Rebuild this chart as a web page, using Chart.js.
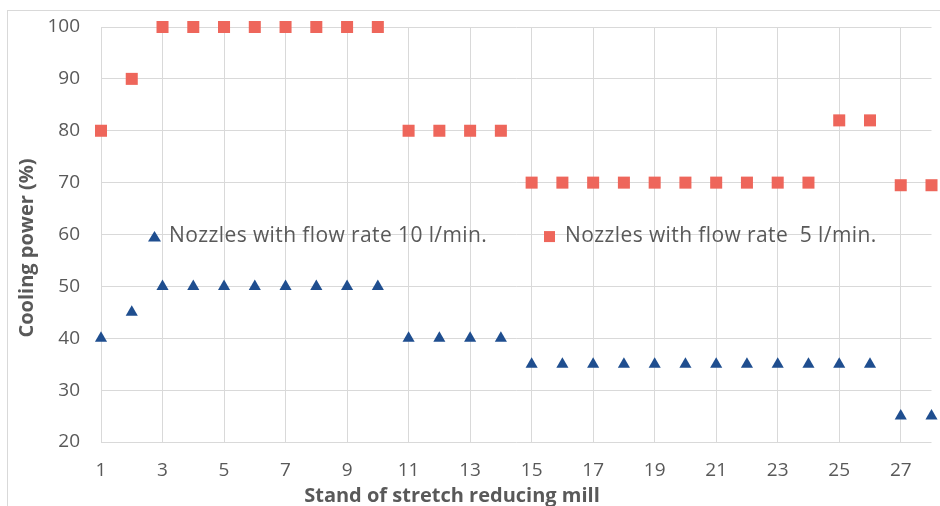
<!DOCTYPE html>
<html lang="en">
<head>
<meta charset="UTF-8">
<title>Cooling power per stand</title>
<style>
  html, body { margin: 0; padding: 0; background: #fff; overflow: hidden; width: 940px; height: 506px; }
  .frame { position: absolute; left: 7px; top: 10px; width: 1000px; height: 600px; border-left: 1px solid #d9d9d9; border-top: 1px solid #d9d9d9; }
  .wrap { position: absolute; left: 0; top: 0; width: 940px; height: 530px; }
</style>
<script src="https://cdn.jsdelivr.net/npm/chart.js"></script>
</head>
<body>
<div class="frame"></div>
<div class="wrap"><canvas id="chart" width="940" height="530"></canvas></div>
<script>
// stand numbers 1..28
const stands = [1, 2, 3, 4, 5, 6, 7, 8, 9, 10, 11, 12, 13, 14, 15, 16, 17, 18, 19, 20, 21, 22, 23, 24, 25, 26, 27, 28];
const flow10 = [40, 45, 50, 50, 50, 50, 50, 50, 50, 50, 40, 40, 40, 40, 35, 35, 35, 35, 35, 35, 35, 35, 35, 35, 35, 35, 25, 25];
const flow5 = [80, 90, 100, 100, 100, 100, 100, 100, 100, 100, 80, 80, 80, 80, 70, 70, 70, 70, 70, 70, 70, 70, 70, 70, 82, 82, 69.5, 69.5];
const xTicks = [1, 3, 5, 7, 9, 11, 13, 15, 17, 19, 21, 23, 25, 27];
const yTicks = [20, 30, 40, 50, 60, 70, 80, 90, 100];

const labels = ['Nozzles with flow rate 10 l/min.', 'Nozzles with flow rate  5 l/min.'];
const blue = '#1f4e8f';
const red = '#ee665b';
const grey = '#595959';
const FONT = "'Open Sans', sans-serif";

// axis titles + legend drawn inside the plot like the Excel original
const extras = {
  id: 'extras',
  afterDatasetsDraw(chart) {
    const { ctx, scales: { y } } = chart;
    ctx.save();
    ctx.fillStyle = grey;
    ctx.font = 'bold 20px ' + FONT;
    ctx.textAlign = 'center';
    ctx.textBaseline = 'middle';
    ctx.save();
    ctx.translate(27, 248);
    ctx.rotate(-Math.PI / 2);
    ctx.fillText('Cooling power (%)', 0, 0);
    ctx.restore();
    ctx.fillText('Stand of stretch reducing mill', 452, 496);

    // legend
    const ly = y.getPixelForValue(59.6);
    ctx.font = '21px ' + FONT;
    ctx.letterSpacing = '0.4px';
    ctx.textAlign = 'left';
    const items = [
      { style: 'triangle', color: blue, at: 154.5, tx: 169 },
      { style: 'rect', color: red, at: 549.5, tx: 565 }
    ];
    items.forEach((it, i) => {
      ctx.fillStyle = it.color;
      ctx.beginPath();
      if (it.style === 'triangle') {
        ctx.moveTo(it.at, ly - 5.5);
        ctx.lineTo(it.at + 6.5, ly + 5);
        ctx.lineTo(it.at - 6.5, ly + 5);
      } else {
        ctx.rect(it.at - 5.5, ly - 5.5, 11, 11);
      }
      ctx.closePath();
      ctx.fill();
      ctx.fillStyle = grey;
      ctx.fillText(labels[i], it.tx, ly - 1);
    });
    ctx.restore();
  }
};

new Chart(document.getElementById('chart'), {
  type: 'scatter',
  data: {
    datasets: [
      {
        label: labels[0],
        data: stands.map((s, i) => ({ x: s, y: flow10[i] })),
        pointStyle: 'triangle',
        pointRadius: 7,
        backgroundColor: blue,
        borderColor: blue,
        borderWidth: 0,
        clip: false
      },
      {
        label: labels[1],
        data: stands.map((s, i) => ({ x: s, y: flow5[i] })),
        pointStyle: 'rect',
        pointRadius: 8.5,
        backgroundColor: red,
        borderColor: red,
        borderWidth: 0,
        clip: false
      }
    ]
  },
  options: {
    responsive: false,
    animation: false,
    layout: { padding: { left: 0, top: 27, right: 7, bottom: 0 } },
    plugins: { legend: { display: false }, tooltip: { enabled: false } },
    scales: {
      x: {
        type: 'linear',
        min: 1,
        max: 28,
        afterBuildTicks(scale) { scale.ticks = xTicks.map(v => ({ value: v })); },
        afterFit(scale) { scale.height = 88; scale.paddingLeft = 0; scale.paddingRight = 0; },
        grid: { color: '#d9d9d9', drawTicks: false },
        border: { display: false },
        ticks: { color: grey, font: { family: FONT, size: 19 }, padding: 17, maxRotation: 0, autoSkip: false }
      },
      y: {
        min: 20,
        max: 100,
        afterBuildTicks(scale) { scale.ticks = yTicks.map(v => ({ value: v })); },
        afterFit(scale) { scale.width = 101; scale.paddingTop = 0; scale.paddingBottom = 0; },
        grid: { color: '#d9d9d9', drawTicks: false },
        border: { display: false },
        ticks: { color: grey, font: { family: FONT, size: 19 }, padding: 21 }
      }
    }
  },
  plugins: [extras]
});
</script>
</body>
</html>
